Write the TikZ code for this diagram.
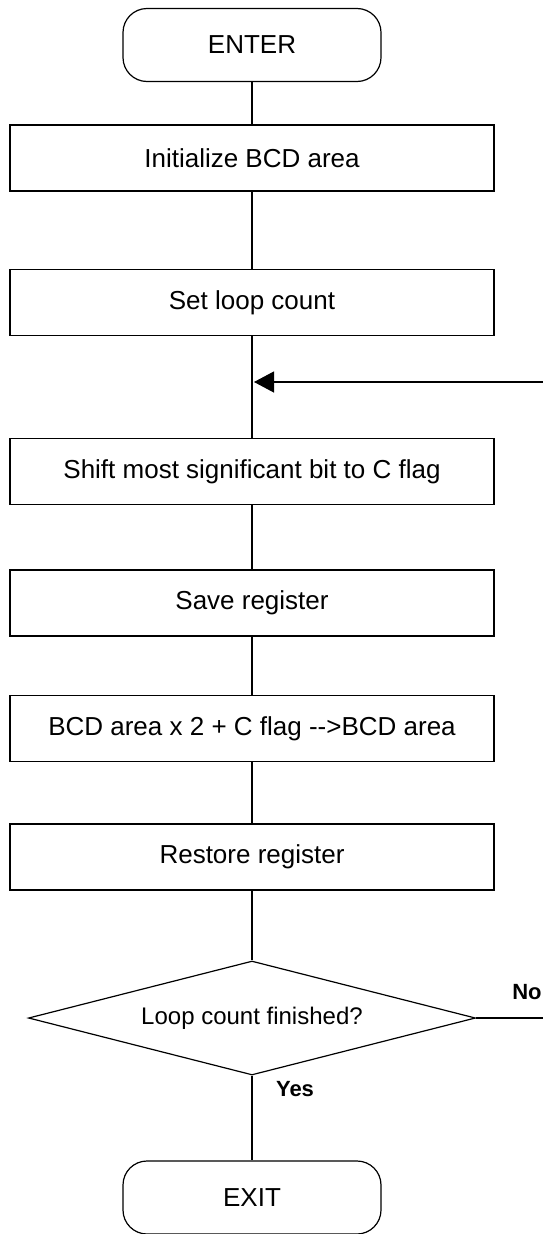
\documentclass[tikz,border=0pt]{standalone}
\usepackage{fontspec}
\setmainfont[Ligatures=NoCommon]{Liberation Sans}
\usetikzlibrary{shapes.geometric,arrows.meta}
\begin{document}
\begin{tikzpicture}[x=1pt,y=-1pt,
  line width=1.2pt,
  font=\fontsize{26}{30}\selectfont,
  term/.style={draw, rectangle, rounded corners=24pt, minimum width=258pt, minimum height=73pt, inner sep=0pt},
  procbox/.style={draw, rectangle, minimum width=484pt, minimum height=66pt, inner sep=0pt},
  decide/.style={draw, diamond, aspect=3.92, minimum width=447pt, minimum height=114pt, inner sep=0pt, font=\fontsize{24}{28}\selectfont},
  lbl/.style={font=\fontsize{22}{26}\selectfont\bfseries, inner sep=0pt},
  conn/.style={draw},
  arr/.style={draw, -{Triangle[length=20pt,width=21pt]}}
]
\useasboundingbox (0,0) rectangle (543,1234);
\node[term] (enter) at (252,45) {ENTER};
\node[procbox] (init) at (252,158) {Initialize BCD area};
\node[procbox] (setc) at (252,302.5) {Set loop count};
\node[procbox] (shift) at (252,471.5) {Shift most significant bit to C flag};
\node[procbox] (save) at (252,603) {Save register};
\node[procbox] (bcd) at (252,728.5) {BCD area x 2 + C flag {-}{-}>BCD area};
\node[procbox] (rest) at (252,857) {Restore register};
\node[decide] (loopq) at (252,1018) {Loop count finished?};
\node[term] (exit) at (252,1197.5) {EXIT};
\node[lbl] (no) at (527,992) {No};
\node[lbl] (yes) at (295,1089) {Yes};
\coordinate (loopin) at (254,382);
\coordinate (loopsrc) at (543,382);
\coordinate (noend) at (543,1018);
\draw[conn] (enter.south) -- (init.north);
\draw[conn] (init.south) -- (setc.north);
\draw[conn] (setc.south) -- (shift.north);
\draw[conn] (shift.south) -- (save.north);
\draw[conn] (save.south) -- (bcd.north);
\draw[conn] (bcd.south) -- (rest.north);
\draw[conn] (rest.south) -- (loopq.north);
\draw[conn] (loopq.south) -- (exit.north);
\draw[conn] (loopq.east) -- (noend);
\draw[arr] (loopsrc) -- (loopin);
\end{tikzpicture}
\end{document}
